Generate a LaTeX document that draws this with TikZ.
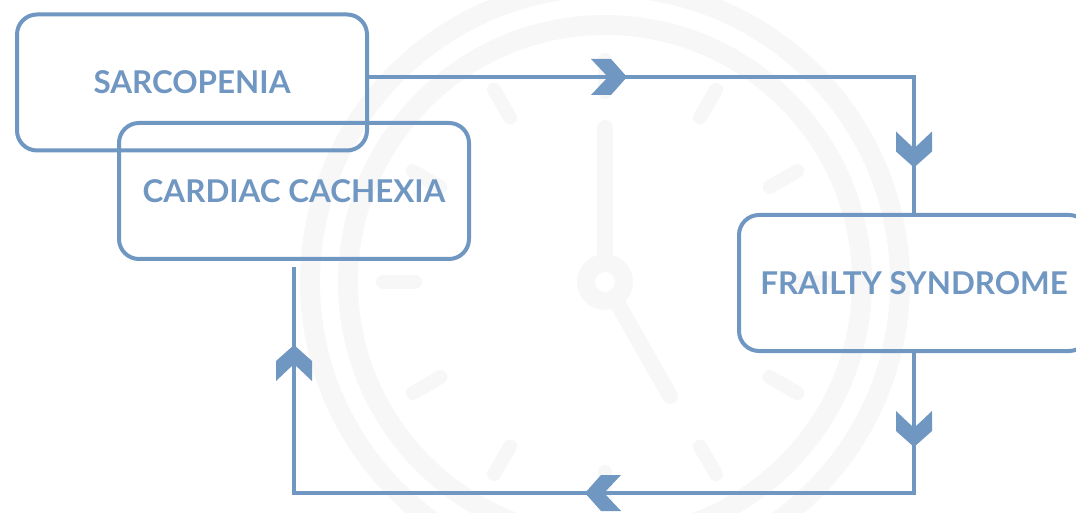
\documentclass[tikz,border=0pt]{standalone}
\usepackage{fontspec}
\setmainfont{Lato}
\usetikzlibrary{calc,decorations.markings}
\definecolor{flow}{RGB}{112,150,194}
\definecolor{wm}{RGB}{247,247,247}
\newcommand{\chevtip}{\fill[flow] (0,0) -- (-16,18) -- (-36,18) -- (-19,0) -- (-36,-18) -- (-16,-18) -- cycle;}
\tikzset{
  box/.style={draw=flow, line width=2pt, rounded corners=10pt, text=flow,
    font=\bfseries\fontsize{15.7}{17}\selectfont, inner sep=0pt,
    minimum width=175pt, minimum height=68pt},
  conn/.style={draw=flow, line width=1.7pt},
  wmline/.style={draw=wm, line cap=round},
}
\begin{document}
\begin{tikzpicture}[x=0.5pt,y=-0.5pt]
\useasboundingbox (0,0) rectangle (1076,513);
\clip (0,0) rectangle (1076,513);
% watermark clock
\coordinate (clk) at (605,282);
\draw[wm, line width=10pt] (clk) circle[radius=295];
\draw[wm, line width=10pt] (clk) circle[radius=257];
\foreach \a in {0,30,...,330}
  \draw[wmline, line width=7pt] ($(clk)+(\a:190)$) -- ($(clk)+(\a:222)$);
\draw[wm, line width=9pt] (clk) circle[radius=19];
\draw[wmline, line width=8pt] ($(clk)+(0,-28)$) -- ($(clk)+(0,-154)$);
\draw[wmline, line width=8pt] ($(clk)+(14,24)$) -- ($(clk)+(65,114)$);
% boxes
\node[box] (sar) at (192,82.5) {SARCOPENIA};
\node[box] (cc) at (294,191) {CARDIAC CACHEXIA};
\node[box] (fs) at (914,283) {FRAILTY SYNDROME};
% connectors
\coordinate (a0) at ($(sar.east)+(0,-5.5)$);
\draw[conn, postaction={decorate, decoration={markings,
    mark=at position 129pt with {\chevtip},
    mark=at position 317.75pt with {\chevtip}}}]
  (a0) -| (fs.north);
\coordinate (ccend) at ($(cc.south)+(0,6)$);
\coordinate (bl) at (294,493);
\draw[conn, postaction={decorate, decoration={markings,
    mark=at position 47pt with {\chevtip},
    mark=at position 234.5pt with {\chevtip},
    mark=at position 454pt with {\chevtip}}}]
  (fs.south) |- (bl) -- (ccend);
\end{tikzpicture}
\end{document}
